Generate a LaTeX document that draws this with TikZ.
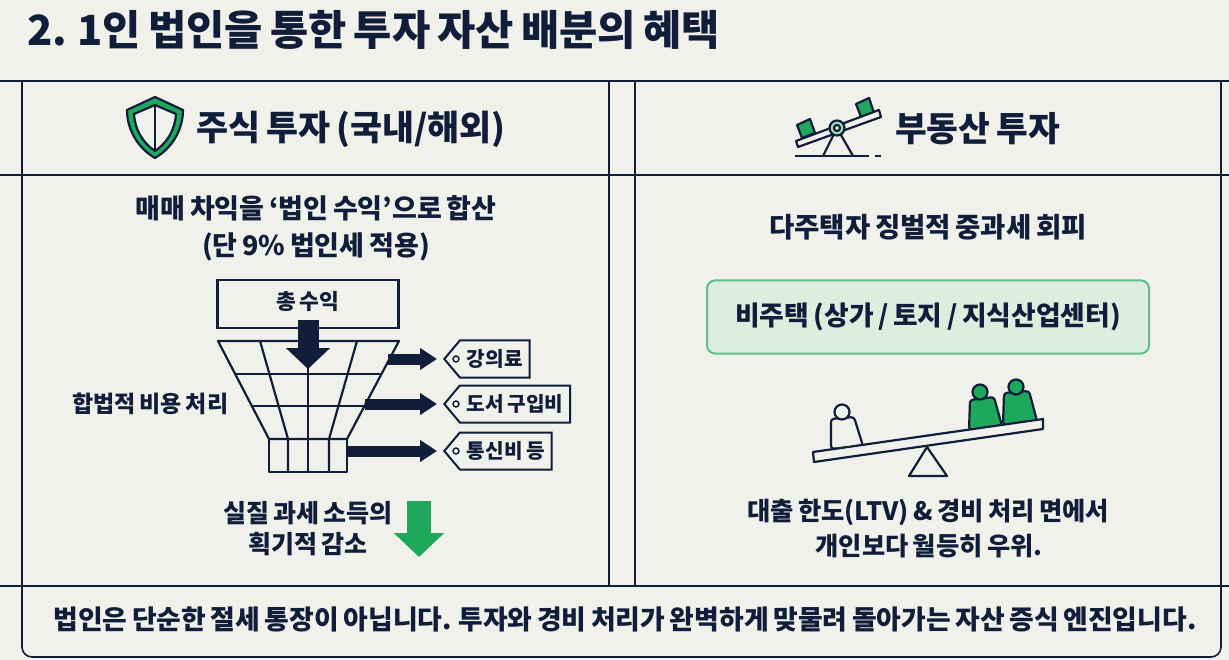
\documentclass[tikz,border=0pt]{standalone}
\usepackage{fontspec}
\setmainfont{Noto Sans CJK KR}[WordSpace=0.75]
\usetikzlibrary{arrows.meta,shapes.symbols}
\definecolor{navy}{HTML}{101E3A}
\definecolor{paper}{HTML}{F1F1EC}
\definecolor{leaf}{HTML}{1DA85B}
\definecolor{mint}{HTML}{DCEFDF}
\definecolor{mintline}{HTML}{62BF87}
\tikzset{
    rule/.style={draw=navy,line width=1.6pt},
    ink/.style={draw=navy,line width=2.2pt,line join=round},
    label/.style={text=navy,font=\fontsize{#1}{#1}\selectfont\bfseries,inner sep=0pt},
    tag/.style={shape=signal,signal to=west,signal pointer angle=100,draw=navy,line width=2pt,
        fill=paper,text=navy,font=\fontsize{20.2}{20.2}\selectfont\bfseries,anchor=west,
        minimum height=37pt,inner ysep=0pt,inner xsep=7pt},
    outarrow/.style={draw=navy,line width=11pt,-{Triangle[length=17pt,width=21pt]}},
}
\begin{document}
\begin{tikzpicture}[x=1pt,y=-1pt]
    \useasboundingbox (0,0) rectangle (1229,660);
    \fill[paper] (0,0) rectangle (1229,660);

    \node[label=41.6,anchor=west] (title) at (27,30) {2. 1인 법인을 통한 투자 자산 배분의 혜택};

    % table
    \draw[rule] (0,81) -- (1229,81);
    \draw[rule] (0,175) -- (1229,175);
    \draw[rule] (0,586) -- (1229,586);
    \draw[rule] (609,81) -- (609,586);
    \draw[rule] (635,81) -- (635,586);
    \draw[rule,rounded corners=10pt] (22,81) -- (22,657) -- (1221,657) -- (1221,81);

    % headers
    \fill[leaf] (155,97) -- (183,110) .. controls (183,130) and (172,148) .. (155,158)
        .. controls (138,148) and (127,130) .. (127,110) -- cycle;
    \draw[ink,fill=paper] (155,105) -- (176,114) .. controls (175,130) and (167,143) .. (155,151)
        .. controls (143,143) and (135,130) .. (134,114) -- cycle;
    \draw[ink] (155,97) -- (183,110) .. controls (183,130) and (172,148) .. (155,158)
        .. controls (138,148) and (127,130) .. (127,110) -- cycle;
    \draw[ink] (155,105) -- (155,151);
    \node[label=34.8,anchor=west] (stock) at (196,129) {주식 투자 (국내/해외)};

    \draw[ink] (837,128) -- (823,156);
    \draw[ink] (837,128) -- (853,156);
    \draw[ink] (795,156) -- (869,156);
    \draw[ink] (875,156) -- (881,156);
    \draw[ink,fill=leaf] (797,125) -- (810,119) -- (815,133) -- (802,138) -- cycle;
    \draw[ink,fill=leaf] (856,104) -- (869,98) -- (874,113) -- (861,117) -- cycle;
    \draw[ink,fill=paper] (796,141) -- (798,147) -- (881,117) -- (879,110) -- cycle;
    \draw[ink,fill=mint!70!leaf] (837,128) circle[radius=7.5pt];
    \draw[ink,fill=paper] (837,128) circle[radius=3pt];
    \node[label=34.5,anchor=west] (estate) at (895,129) {부동산 투자};

    % left column
    \node[label=27] (gain1) at (316,208) {매매 차익을 ‘법인 수익’으로 합산};
    \node[label=27] (gain2) at (316,247) {(단 9\% 법인세 적용)};

    \node[draw=navy,line width=2.2pt,minimum width=181pt,minimum height=48pt] (total) at (308,304) {};
    \node[label=21.5] (totaltext) at (308,301) {총 수익};

    \draw[ink] (218,341) -- (399,341) -- (347,439) -- (269,439) -- cycle;
    \draw[ink] (269,439) rectangle (347,472);
    \draw[ink] (236,374) -- (381,374);
    \draw[ink] (253,406) -- (364,406);
    \draw[ink] (260,341) -- (288,439) -- (288,472);
    \draw[ink] (357,341) -- (329,439) -- (329,472);
    \draw[ink] (308,341) -- (308,472);

    \coordinate (down1) at (308,320);
    \coordinate (down2) at (308,369);
    \draw[navy,line width=21pt,-{Triangle[length=21pt,width=43pt]}] (down1) -- (down2);

    \node[tag] (fee) at (443,359) {강의료};
    \node[tag] (book) at (443,404) {도서 구입비};
    \node[tag] (phone) at (443,451) {통신비 등};
    \draw[navy,line width=1.4pt] (456,359) circle[radius=3pt];
    \draw[navy,line width=1.4pt] (456,404) circle[radius=3pt];
    \draw[navy,line width=1.4pt] (456,451) circle[radius=3pt];

    \coordinate (out1) at (388,359);
    \coordinate (out2) at (365,404);
    \coordinate (out3) at (347,451);
    \draw[outarrow,shorten >=6pt] (out1) -- (fee.west);
    \draw[outarrow,shorten >=6pt] (out2) -- (book.west);
    \draw[outarrow,shorten >=6pt] (out3) -- (phone.west);

    \node[label=23,anchor=west] (legal) at (72,404) {합법적 비용 처리};
    \node[label=25] (real1) at (308,513) {실질 과세 소득의};
    \node[label=25] (real2) at (308,544) {획기적 감소};

    \coordinate (cut1) at (419,501);
    \coordinate (cut2) at (419,557);
    \draw[leaf,line width=24pt,-{Triangle[length=24pt,width=49pt]}] (cut1) -- (cut2);

    % right column
    \node[label=27.5] (avoid) at (928,227) {다주택자 징벌적 중과세 회피};
    \node[draw=mintline,fill=mint,line width=2pt,rounded corners=8pt,minimum width=442pt,minimum height=73pt] (nonhouse) at (928,317) {};
    \node[label=26.8] (nonhousetext) at (928,317) {비주택 (상가 / 토지 / 지식산업센터)};

    \draw[ink] (927,447) -- (947,476) -- (909,476) -- cycle;
    \draw[ink,fill=paper,rounded corners=3pt] (831,449) -- (831,419) -- (854,417) -- (863,446) -- cycle;
    \draw[ink,fill=paper] (842,412) circle[radius=7.5pt];
    \draw[ink,fill=leaf,rounded corners=3pt] (969,430) -- (970,400) -- (994,397) -- (1002,426) -- cycle;
    \draw[ink,fill=leaf] (980,392) circle[radius=7.5pt];
    \draw[ink,fill=leaf,rounded corners=3pt] (1003,425) -- (1004,393) -- (1029,391) -- (1037,421) -- cycle;
    \draw[ink,fill=leaf] (1016,387) circle[radius=7.5pt];
    \draw[ink,fill=paper] (813,452) -- (814,462) -- (1043,429) -- (1043,419) -- cycle;

    \node[label=25.3] (loan1) at (928,512) {대출 한도(LTV) \& 경비 처리 면에서};
    \node[label=25.3] (loan2) at (929,546) {개인보다 월등히 우위.};

    % bottom line
    \node[label=26.85] (bottom) at (625,619) {법인은 단순한 절세 통장이 아닙니다. 투자와 경비 처리가 완벽하게 맞물려 돌아가는 자산 증식 엔진입니다.};
\end{tikzpicture}
\end{document}
